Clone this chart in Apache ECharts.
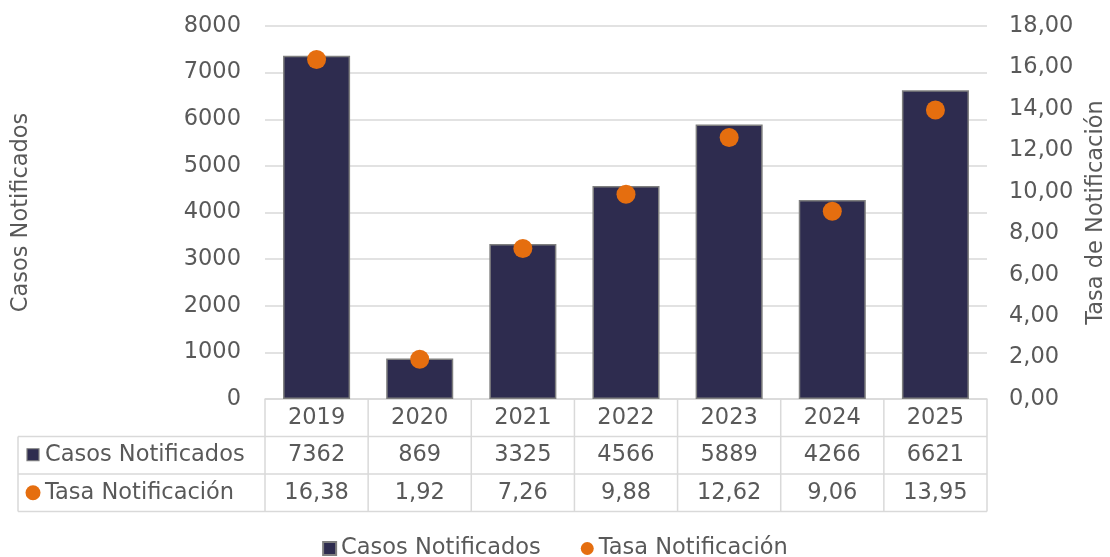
<!DOCTYPE html>
<html>
<head>
<meta charset="utf-8">
<script src="https://cdn.jsdelivr.net/npm/echarts@6/dist/echarts.min.js"></script>
<style>
  html, body { margin: 0; padding: 0; background: #fff; }
  #chart { width: 1110px; height: 557px; }
</style>
</head>
<body>
<div id="chart"></div>
<script>
// Annual notified cases and notification rate
const years = ['2019', '2020', '2021', '2022', '2023', '2024', '2025'];
const casos = [7362, 869, 3325, 4566, 5889, 4266, 6621];
const tasa = [16.38, 1.92, 7.26, 9.88, 12.62, 9.06, 13.95];
const casosName = 'Casos Notificados';
const tasaName = 'Tasa Notificación';

const FONT = 'DejaVu Sans';
const TXT = '#595959';
const LINE = '#d9d9d9';
const BAR = '#2e2c4f';
const DOT = '#e56e0f';
const FS = 22.5;

const fmtComma = v => v.toFixed(2).replace('.', ',');

const chart = echarts.init(document.getElementById('chart'), null, { renderer: 'canvas' });

const option = {
  animation: false,
  textStyle: { fontFamily: FONT, color: TXT },
  grid: { left: 265, right: 123, top: 26, bottom: 158, containLabel: false, outerBoundsMode: 'none' },
  legend: {
    top: 532,
    left: 'center',
    itemWidth: 13,
    itemHeight: 13,
    itemGap: 40,
    textStyle: { fontFamily: FONT, fontSize: FS, color: TXT },
    data: [
      { name: casosName, icon: 'rect' },
      { name: tasaName, icon: 'circle' }
    ]
  },
  xAxis: {
    type: 'category',
    data: years,
    boundaryGap: true,
    axisLine: { show: true, lineStyle: { color: LINE, width: 1.5 } },
    axisTick: { show: false },
    axisLabel: { fontFamily: FONT, fontSize: FS, color: TXT, margin: 8 }
  },
  yAxis: [
    {
      type: 'value',
      min: 0, max: 8000, interval: 1000,
      name: casosName,
      nameLocation: 'middle',
      nameGap: 232,
      nameTextStyle: { fontFamily: FONT, fontSize: FS, color: TXT },
      axisLine: { show: false },
      axisTick: { show: false },
      axisLabel: { fontFamily: FONT, fontSize: FS, color: TXT, margin: 24, formatter: v => String(v) },
      splitLine: { lineStyle: { color: LINE, width: 1.5 } }
    },
    {
      type: 'value',
      min: 0, max: 18, interval: 2,
      name: 'Tasa de Notificación',
      nameLocation: 'middle',
      nameGap: 98,
      nameTextStyle: { fontFamily: FONT, fontSize: FS, color: TXT },
      axisLine: { show: false },
      axisTick: { show: false },
      axisLabel: { fontFamily: FONT, fontSize: FS, color: TXT, margin: 22, formatter: fmtComma },
      splitLine: { show: false }
    }
  ],
  series: [
    {
      name: casosName,
      type: 'bar',
      yAxisIndex: 0,
      data: casos,
      barWidth: '65%',
      itemStyle: { color: BAR, borderColor: '#7f7f7f', borderWidth: 1.5 }
    },
    {
      name: tasaName,
      type: 'scatter',
      yAxisIndex: 1,
      data: tasa,
      symbol: 'circle',
      symbolSize: 19,
      itemStyle: { color: DOT, opacity: 1 },
      z: 5
    }
  ]
};

chart.setOption(option);

// Data table under the plot: rows for each series, columns aligned with the categories
function drawTable() {
  const grid = chart.getModel().getComponent('grid').coordinateSystem.getRect();
  const band = grid.width / years.length;
  const y0 = grid.y + grid.height;   // top of the table (x axis line)
  const rowH = 37.5;
  const y1 = y0 + rowH, y2 = y0 + 2 * rowH, y3 = y0 + 3 * rowH;
  const leftX = 18;
  const ls = { stroke: LINE, lineWidth: 1.5 };
  const els = [];
  const font = `${FS}px "${FONT}"`;

  const hline = (x1, x2, y) => els.push({ type: 'line', shape: { x1, y1: y, x2, y2: y }, style: ls, silent: true });
  const vline = (x, ya, yb) => els.push({ type: 'line', shape: { x1: x, y1: ya, x2: x, y2: yb }, style: ls, silent: true });

  hline(leftX, grid.x + grid.width, y1);
  hline(leftX, grid.x + grid.width, y2);
  hline(leftX, grid.x + grid.width, y3);
  vline(leftX, y1, y3);
  for (let i = 0; i <= years.length; i++) {
    vline(grid.x + i * band, y0, y3);
  }

  years.forEach((yr, i) => {
    const cx = chart.convertToPixel({ xAxisIndex: 0 }, i);
    els.push({
      type: 'text', silent: true,
      style: { x: cx, y: (y1 + y2) / 2, text: String(casos[i]), align: 'center', verticalAlign: 'middle', font, fill: TXT }
    });
    els.push({
      type: 'text', silent: true,
      style: { x: cx, y: (y2 + y3) / 2, text: fmtComma(tasa[i]), align: 'center', verticalAlign: 'middle', font, fill: TXT }
    });
  });

  // row headers with series keys
  els.push({
    type: 'rect', silent: true,
    shape: { x: 27, y: (y1 + y2) / 2 - 6.5, width: 12, height: 12 },
    style: { fill: BAR, stroke: '#7f7f7f', lineWidth: 1.2 }
  });
  els.push({
    type: 'text', silent: true,
    style: { x: 45, y: (y1 + y2) / 2, text: casosName, align: 'left', verticalAlign: 'middle', font, fill: TXT }
  });
  els.push({
    type: 'circle', silent: true,
    shape: { cx: 33, cy: (y2 + y3) / 2, r: 7.5 },
    style: { fill: DOT }
  });
  els.push({
    type: 'text', silent: true,
    style: { x: 45, y: (y2 + y3) / 2, text: tasaName, align: 'left', verticalAlign: 'middle', font, fill: TXT }
  });

  chart.setOption({ graphic: { elements: els } });
}

drawTable();
</script>
</body>
</html>
